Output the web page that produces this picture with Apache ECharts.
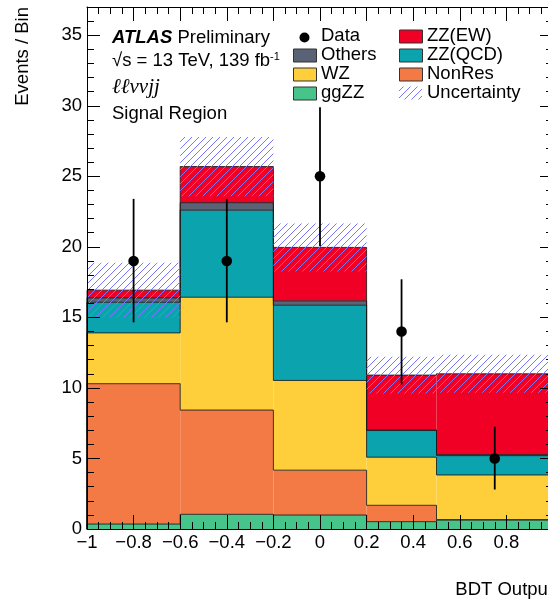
<!DOCTYPE html>
<html><head><meta charset="utf-8">
<script src="https://cdn.jsdelivr.net/npm/echarts@6/dist/echarts.min.js"></script>
<style>html,body{margin:0;padding:0;background:#fff}#c{width:548px;height:601px}</style>
</head><body><div id="c"></div>
<script>
// ---- data ----
const binEdges = [-1, -0.6, -0.2, 0.2, 0.5, 1.0];
const ggZZ    = [0.35, 1.04, 0.99, 0.52, 0.64];
const nonRes  = [9.95, 7.39, 3.18, 1.16, 0.02];
const wz      = [3.60, 8.00, 6.36, 3.41, 3.17];
const zzQCD   = [2.17, 6.17, 5.33, 1.89, 1.37];
const others  = [0.31, 0.53, 0.31, 0.05, 0.07];
const zzEW    = [0.55, 2.56, 3.79, 3.88, 5.73];
const uncertainty = [1.95, 2.10, 1.70, 1.30, 1.35];
const dataX = [-0.8, -0.4, 0, 0.35, 0.75];
const dataY = [19, 19, 25, 14, 5];
const dataErrUp   = [4.4, 4.4, 4.9, 3.7, 2.25];
const dataErrDown = [4.35, 4.35, 4.95, 3.75, 2.2];
const yMajorTicks = [0, 5, 10, 15, 20, 25, 30, 35];

const FONT = "'Liberation Sans', Arial, Helvetica, sans-serif";
const FS = 18.5;
const COLORS = {ggZZ:'#46c48a', NonRes:'#f47a45', WZ:'#fecf3b', 'ZZ(QCD)':'#0aa3ae', Others:'#5a6275', 'ZZ(EW)':'#f10025'};
const OUTLINE = 'rgba(25,25,25,0.85)';

function makeHatch(){
  const s = 7;
  const cv = document.createElement('canvas'); cv.width = s; cv.height = s;
  const ctx = cv.getContext('2d');
  ctx.strokeStyle = 'rgb(120,120,255)'; ctx.lineWidth = 1;
  ctx.beginPath();
  ctx.moveTo(-1, s+1); ctx.lineTo(s+1, -1);
  ctx.moveTo(-1, 1); ctx.lineTo(1, -1);
  ctx.moveTo(s-1, s+1); ctx.lineTo(s+1, s-1);
  ctx.stroke();
  return cv;
}
const hatch = {image: makeHatch(), repeat: 'repeat'};

const components = [
  ['ggZZ', ggZZ], ['NonRes', nonRes], ['WZ', wz], ['ZZ(QCD)', zzQCD], ['Others', others], ['ZZ(EW)', zzEW]
];
const nb = binEdges.length - 1;
let cum = new Array(nb).fill(0);
const series = [];
function stackRender(color){
  return function(params, api){
    const lo = api.value(0), hi = api.value(1), base = api.value(2), top = api.value(3), prev = api.value(4);
    const p0 = api.coord([lo, base]), p1 = api.coord([hi, top]), pp = api.coord([lo, prev]);
    const pts = [[p0[0], pp[1]], [p0[0], p1[1]], [p1[0], p1[1]]];
    if (params.dataIndex === nb - 1) pts.push([p1[0], api.coord([hi, 0])[1]]);
    return {type:'group', children:[
      {type:'rect', z2:0, shape:{x:p0[0], y:p1[1], width:p1[0]-p0[0], height:p0[1]-p1[1]}, style:{fill:color}},
      {type:'polyline', z2:10, shape:{points:pts}, style:{stroke:OUTLINE, lineWidth:1, fill:null}}
    ]};
  };
}
components.forEach(([name, vals]) => {
  const rows = vals.map((v, i) => [binEdges[i], binEdges[i+1], cum[i], cum[i] + v]);
  rows.forEach((r, i) => r.push(i > 0 ? rows[i-1][3] : 0));
  cum = cum.map((b, i) => b + vals[i]);
  series.push({type:'custom', name, z:2, xAxisIndex:0, yAxisIndex:0, data:rows,
    encode:{x:[0,1], y:[2,3]}, renderItem: stackRender(COLORS[name])});
});
const totals = cum.slice();
series.push({type:'custom', name:'Uncertainty', z:3, xAxisIndex:0, yAxisIndex:0,
  data: totals.map((t, i) => [binEdges[i], binEdges[i+1], t - uncertainty[i], t + uncertainty[i]]),
  encode:{x:[0,1], y:[2,3]},
  renderItem(params, api){
    const p0 = api.coord([api.value(0), api.value(2)]), p1 = api.coord([api.value(1), api.value(3)]);
    return {type:'rect', shape:{x:p0[0], y:p1[1], width:p1[0]-p0[0], height:p0[1]-p1[1]}, style:{fill:hatch}};
  }});
series.push({type:'custom', name:'Data', z:4, xAxisIndex:0, yAxisIndex:0,
  data: dataX.map((x, i) => [x, dataY[i], dataY[i] - dataErrDown[i], dataY[i] + dataErrUp[i]]),
  encode:{x:0, y:[1,2,3]},
  renderItem(params, api){
    const c = api.coord([api.value(0), api.value(1)]);
    const lo = api.coord([api.value(0), api.value(2)]), hi = api.coord([api.value(0), api.value(3)]);
    return {type:'group', children:[
      {type:'line', shape:{x1:c[0], y1:lo[1], x2:c[0], y2:hi[1]}, style:{stroke:'#000', lineWidth:1.8}},
      {type:'circle', shape:{cx:c[0], cy:c[1], r:5.3}, style:{fill:'#000'}}
    ]};
  }});

const xFmt = v => { const r = Math.round(v * 10) / 10; return String(r).replace('-', '\u2212'); };
function xAx(pos, interval, major){
  return {type:'value', min:-1, max:1, interval, position:pos, gridIndex:0, z:10,
    splitLine:{show:false},
    axisLine:{show:major, onZero:false, lineStyle:{color:'#000', width:1}},
    axisTick:{show:true, inside:true, length: major ? 14 : 7, lineStyle:{color:'#000', width:1}},
    axisLabel:{show: major && pos === 'bottom', formatter:xFmt, color:'#000', fontSize:FS, fontFamily:FONT, margin:4}};
}
function yAx(pos, interval, major){
  return {type:'value', min:0, max:37, interval, position:pos, gridIndex:0, z:10,
    splitLine:{show:false},
    axisLine:{show:major, onZero:false, lineStyle:{color:'#000', width:1}},
    axisTick:{show:true, inside:true, length: major ? 13 : 7, lineStyle:{color:'#000', width:1}},
    axisLabel:{show: major && pos === 'left', color:'#000', fontSize:FS, fontFamily:FONT, margin:5,
      formatter: v => yMajorTicks.indexOf(Math.round(v)) >= 0 && Math.abs(v - Math.round(v)) < 1e-6 ? String(Math.round(v)) : ''}};
}

// legend (manual, two columns)
const legendRows = [36, 55, 74, 93];
const legendCol1 = [['Data', null], ['Others', COLORS.Others], ['WZ', COLORS.WZ], ['ggZZ', COLORS.ggZZ]];
const legendCol2 = [['ZZ(EW)', COLORS['ZZ(EW)']], ['ZZ(QCD)', COLORS['ZZ(QCD)']], ['NonRes', COLORS.NonRes], ['Uncertainty', 'hatch']];
const graphics = [];
function txt(text, x, y, extra){
  return Object.assign({type:'text', x, y, z:10, style:Object.assign({text, fill:'#000', fontSize:FS, fontFamily:FONT,
    align:'left', textAlign:'left', verticalAlign:'middle', textVerticalAlign:'middle'}, extra || {})});
}
[[legendCol1, 293, 321], [legendCol2, 399, 427]].forEach(([items, bx, tx]) => {
  items.forEach(([name, col], i) => {
    const cy = legendRows[i];
    if (col === null) {
      graphics.push({type:'circle', z:10, shape:{cx:bx + 11.5, cy:cy + 1.5, r:5}, style:{fill:'#000'}});
    } else if (col === 'hatch') {
      graphics.push({type:'rect', z:10, shape:{x:bx, y:cy - 6.5, width:23, height:13}, style:{fill:hatch}});
    } else {
      graphics.push({type:'rect', z:10, shape:{x:bx + 0.5, y:cy - 6, width:23, height:13}, style:{fill:col, stroke:'#333', lineWidth:1}});
    }
    graphics.push(txt(name, tx, cy));
  });
});
graphics.push({type:'text', x:112, y:38, z:10, style:{text:'{a|ATLAS} Preliminary', fill:'#000', fontSize:FS, fontFamily:FONT,
  verticalAlign:'middle', textVerticalAlign:'middle',
  rich:{a:{fontWeight:'bold', fontStyle:'italic', fontSize:FS, fontFamily:FONT, fill:'#000'}}}});
graphics.push({type:'text', x:112, y:61, z:10, style:{text:'\u221As = 13 TeV, 139 fb{s|-1}', fill:'#000', fontSize:FS, fontFamily:FONT,
  verticalAlign:'middle', textVerticalAlign:'middle',
  rich:{s:{fontSize:11, fontFamily:FONT, verticalAlign:'top', fill:'#000'}}}});
graphics.push(txt('\u2113\u2113\u03BD\u03BDjj', 112, 87, {fontStyle:'italic', fontFamily:"'Liberation Serif', 'DejaVu Serif', serif", fontSize:21}));
graphics.push(txt('Signal Region', 112, 114));
graphics.push({type:'text', x:23, y:7, rotation:Math.PI/2, z:10, style:{text:'Events / Bin', fill:'#000', fontSize:FS, fontFamily:FONT,
  align:'right', textAlign:'right', verticalAlign:'middle', textVerticalAlign:'middle'}});
graphics.push(txt('BDT Output', 553, 590, {align:'right', textAlign:'right'}));

const chart = echarts.init(document.getElementById('c'), null, {renderer:'canvas'});
chart.setOption({
  animation:false,
  backgroundColor:'#fff',
  grid:{left:87, top:7, right:-5, bottom:72, containLabel:false, outerBoundsMode:'none'},
  xAxis:[xAx('bottom', 0.2, true), xAx('bottom', 0.05, false), xAx('top', 0.2, true), xAx('top', 0.05, false)],
  yAxis:[yAx('left', 5, true), yAx('left', 1, false), yAx('right', 5, true), yAx('right', 1, false)],
  series,
  graphic:{elements:graphics}
});
</script>
</body></html>
